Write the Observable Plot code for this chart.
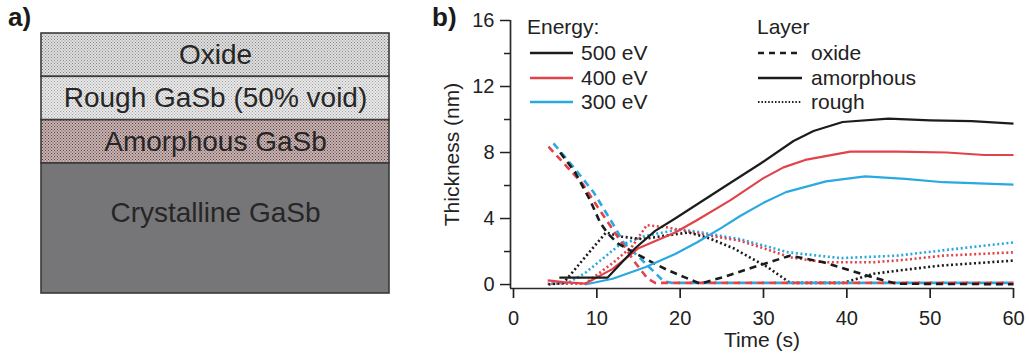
<!DOCTYPE html>
<html><head><meta charset="utf-8">
<script src="https://cdn.jsdelivr.net/npm/d3@7"></script>
<script src="https://cdn.jsdelivr.net/npm/@observablehq/plot@0.6"></script>
<style>
html,body{margin:0;padding:0;background:#fff;}
#root{position:relative;width:1029px;height:355px;overflow:hidden;font-family:"Liberation Sans",Arial,Helvetica,sans-serif;color:#222;}
#left,#right{position:absolute;top:0;}
#left{left:0;}
#right{left:420px;}
.panel{position:absolute;font-weight:bold;font-size:26px;line-height:26px;color:#1a1a1a;}
.leg{position:absolute;font-size:21px;height:26px;line-height:26px;white-space:nowrap;color:#222;}
.swatch{position:absolute;}
</style></head><body>
<div id="root">
  <div id="left"></div>
  <div id="right"></div>
</div>
<script>
// ---------- DATA ----------
// panel a) layer stack (schematic thickness units)
const layerNames = ["Oxide", "Rough GaSb (50% void)", "Amorphous GaSb", "Crystalline GaSb"];
const layerThickness = [1, 1, 1, 3];
const layerFills = ["url(#pat-oxide)", "url(#pat-rough)", "url(#pat-amorph)", "#767679"];

// panel b) legend entries
const energies = ["500 eV", "400 eV", "300 eV"];
const energyColors = ["#1c1c1c", "#e2424a", "#2aa9e0"];
const layerKinds = ["oxide", "amorphous", "rough"];

// ticks
const xTicks = [0, 10, 20, 30, 40, 50, 60];
const yTicks = [0, 4, 8, 12, 16];
const yMinorTicks = [2, 6, 10, 14];

// series: [time (s), thickness (nm)]
const oxide500 = [[5.6,8.0],[7.4,6.8],[9.2,5.1],[10.4,3.75],[11.3,3.1],[12.5,2.5],[14.6,1.9],[16.8,1.3],[18.6,0.85],[20.5,0.45],[22.4,0.05],[25.5,0.5],[28.5,1.0],[33.2,1.75],[37.2,1.35],[40.4,0.85],[43,0.45],[46,0.05],[60,0.02]];
const oxide400 = [[4.2,8.35],[8.3,6.1],[10.1,4.7],[12.5,2.9],[14.5,1.4],[16.1,0.35],[17,0.1],[60,0.1]];
const oxide300 = [[4.8,8.55],[7.4,7.0],[9.6,5.6],[12.2,3.45],[13.2,2.55],[15.8,1.3],[18,0.2],[19,0.1],[60,0.1]];

const amorph500 = [[5.5,0.42],[11.3,0.42],[14.6,2.2],[17,3.25],[19.4,4.0],[22,4.85],[26,6.15],[29.7,7.35],[33.6,8.7],[36,9.3],[39.5,9.85],[45,10.05],[50,9.95],[55,9.9],[60,9.75]];
const amorph400 = [[4.1,0.25],[6,0.15],[8.6,0.05],[11.9,0.95],[15,2.2],[19.4,3.15],[22,3.9],[26,5.1],[30,6.45],[32.4,7.1],[35,7.55],[40.4,8.05],[46,8.05],[52,8.0],[56.5,7.85],[60,7.85]];
const amorph300 = [[8.6,0],[11.9,0.35],[15.8,1.05],[19.4,1.85],[22,2.55],[25,3.45],[27.2,4.15],[30,4.95],[32.7,5.6],[37.5,6.25],[42.2,6.55],[47,6.4],[51.6,6.2],[60,6.05]];

const rough500 = [[4.2,0],[6,0.1],[8.5,1.6],[11.1,3.15],[13,2.9],[15.5,2.75],[18,2.95],[21,3.15],[23.5,2.8],[26.4,2.2],[30.5,1.05],[33.2,0.1],[39.6,0.1],[43.2,0.65],[47,0.9],[51.3,1.15],[60,1.45]];
const rough400 = [[4.1,0.05],[8.6,0.05],[11.9,1.3],[14.3,2.35],[16,3.6],[18.6,3.45],[22,3.1],[27.2,2.65],[30,2.2],[33.2,1.65],[37.2,1.35],[43.2,1.35],[47,1.5],[51.6,1.75],[60,1.95]];
const rough300 = [[4.5,0.05],[6.5,0.1],[8.6,0.7],[12.6,2.35],[15.8,2.95],[17.9,3.15],[20,3.35],[22,3.2],[27.2,2.75],[33,1.95],[39.3,1.6],[46,1.75],[52,2.1],[60,2.55]];

// ---------- STYLES ----------
const FONT = '"Liberation Sans", Arial, Helvetica, sans-serif';
const layerStyle = {
  oxide: {strokeWidth: 2.6, strokeDasharray: "7,5"},
  amorphous: {strokeWidth: 2.2, strokeDasharray: null},
  rough: {strokeWidth: 2.6, strokeDasharray: "2,2.6"}
};
const seriesTable = {
  oxide: [oxide500, oxide400, oxide300],
  amorphous: [amorph500, amorph400, amorph300],
  rough: [rough500, rough400, rough300]
};

// ---------- PANEL A ----------
const cum = d3.cumsum(layerThickness);
const layers = layerNames.map((name, i) => ({
  name, fill: layerFills[i], y1: cum[i] - layerThickness[i], y2: cum[i]
}));

const left = Plot.plot({
  width: 410, height: 355,
  marginLeft: 41, marginRight: 21, marginTop: 33, marginBottom: 62,
  y: {domain: [0, d3.sum(layerThickness)], reverse: true, axis: null},
  color: {type: "identity"},
  style: {fontFamily: FONT, background: "transparent", color: "#2a2a2a"},
  marks: [
    Plot.rect(layers, {y1: "y1", y2: "y2", fill: "fill", stroke: "#3a3a3a", strokeWidth: 1.6}),
    Plot.text(layers.slice(0, 3), {y: d => (d.y1 + d.y2) / 2, text: "name", fontSize: 28, fill: "#262626"}),
    Plot.text(layers.slice(3), {y: d => (d.y1 + d.y2) / 2, text: "name", fontSize: 28, fill: "#262626", dy: -15})
  ]
});
// texture patterns
const defs = d3.select(left).insert("defs", ":first-child");
function pattern(id, bg, dot, dots) {
  const p = defs.append("pattern").attr("id", id).attr("patternUnits", "userSpaceOnUse")
    .attr("width", 3).attr("height", 3);
  p.append("rect").attr("width", 3).attr("height", 3).attr("fill", bg);
  dots.forEach(([x, y]) => p.append("rect").attr("x", x).attr("y", y).attr("width", 1).attr("height", 1).attr("fill", dot));
}
pattern("pat-oxide", "#e0e0e0", "#858585", [[0, 0], [1.5, 1.5]]);
pattern("pat-rough", "#e9e9e9", "#a0a0a0", [[0, 0], [1.5, 1.5]]);
pattern("pat-amorph", "#cbb3b3", "#574343", [[0, 0], [1.5, 1.5]]);
document.getElementById("left").appendChild(left);

// ---------- PANEL B ----------
const X0 = -0.36, Y0 = -0.24;
const lineMarks = [];
["rough", "oxide", "amorphous"].forEach(kind => {
  [2, 1, 0].forEach(ei => {
    const st = layerStyle[kind];
    lineMarks.push(Plot.line(seriesTable[kind][ei], {
      x: d => d[0], y: d => d[1],
      stroke: energyColors[ei], strokeWidth: st.strokeWidth,
      strokeDasharray: st.strokeDasharray || undefined,
      strokeLinejoin: "round", strokeLinecap: "butt"
    }));
  });
});

const right = Plot.plot({
  width: 609, height: 355,
  marginLeft: 90, marginRight: 16, marginTop: 20, marginBottom: 67,
  x: {domain: [X0, 60]},
  y: {domain: [Y0, 16]},
  style: {fontFamily: FONT, fontSize: "20px", background: "transparent", color: "#222", overflow: "visible"},
  marks: [
    ...lineMarks,
    Plot.ruleX([X0], {stroke: "#2a2a2a", strokeWidth: 1.7}),
    Plot.ruleY([Y0], {stroke: "#2a2a2a", strokeWidth: 1.7}),
    Plot.axisX({ticks: xTicks, tickSize: 10, tickPadding: 12, fontSize: 20, label: null, strokeWidth: 1.7}),
    Plot.axisY({ticks: yTicks, tickSize: 10, tickPadding: 6, fontSize: 20, label: null, strokeWidth: 1.5}),
    Plot.axisY({ticks: yMinorTicks, tickSize: 6, tickFormat: () => "", label: null, strokeWidth: 1.5}),
    Plot.text(["Time (s)"], {text: d => d, frameAnchor: "bottom", lineAnchor: "middle", textAnchor: "middle", dy: 52, fontSize: 21}),
    Plot.text(["Thickness (nm)"], {text: d => d, frameAnchor: "left", textAnchor: "middle", lineAnchor: "middle", dx: -58, rotate: -90, fontSize: 21})
  ]
});
document.getElementById("right").appendChild(right);

// ---------- LABELS & LEGEND ----------
const root = document.getElementById("root");
function addDiv(cls, text, leftPx, cy) {
  const d = document.createElement("div");
  d.className = cls; d.textContent = text;
  d.style.left = leftPx + "px"; d.style.top = (cy - 13) + "px";
  root.appendChild(d); return d;
}
function addSwatch(x1, x2, cy, color, st) {
  const ns = "http://www.w3.org/2000/svg";
  const s = document.createElementNS(ns, "svg");
  s.setAttribute("class", "swatch");
  s.setAttribute("width", x2 - x1); s.setAttribute("height", 8);
  s.style.left = x1 + "px"; s.style.top = (cy - 4) + "px";
  const l = document.createElementNS(ns, "line");
  l.setAttribute("x1", 0); l.setAttribute("x2", x2 - x1);
  l.setAttribute("y1", 4); l.setAttribute("y2", 4);
  l.setAttribute("stroke", color); l.setAttribute("stroke-width", st.strokeWidth);
  if (st.strokeDasharray) l.setAttribute("stroke-dasharray", st.strokeDasharray);
  s.appendChild(l); root.appendChild(s);
}
addDiv("panel", "a)", 8, 17);
addDiv("panel", "b)", 432, 17);

const rowY = [53, 78, 102];
addDiv("leg", "Energy:", 527, 27);
energies.forEach((e, i) => {
  addSwatch(530, 573, rowY[i], energyColors[i], {strokeWidth: 2.4});
  addDiv("leg", e, 581, rowY[i]);
});
addDiv("leg", "Layer", 757, 27);
layerKinds.forEach((k, i) => {
  addSwatch(758, 802, rowY[i], "#1c1c1c", {strokeWidth: k === "rough" ? 2 : 2.4, strokeDasharray: k === "oxide" ? "6,5" : (k === "rough" ? "1.5,1.9" : null)});
  addDiv("leg", k, 811, rowY[i]);
});
</script>
</body></html>
